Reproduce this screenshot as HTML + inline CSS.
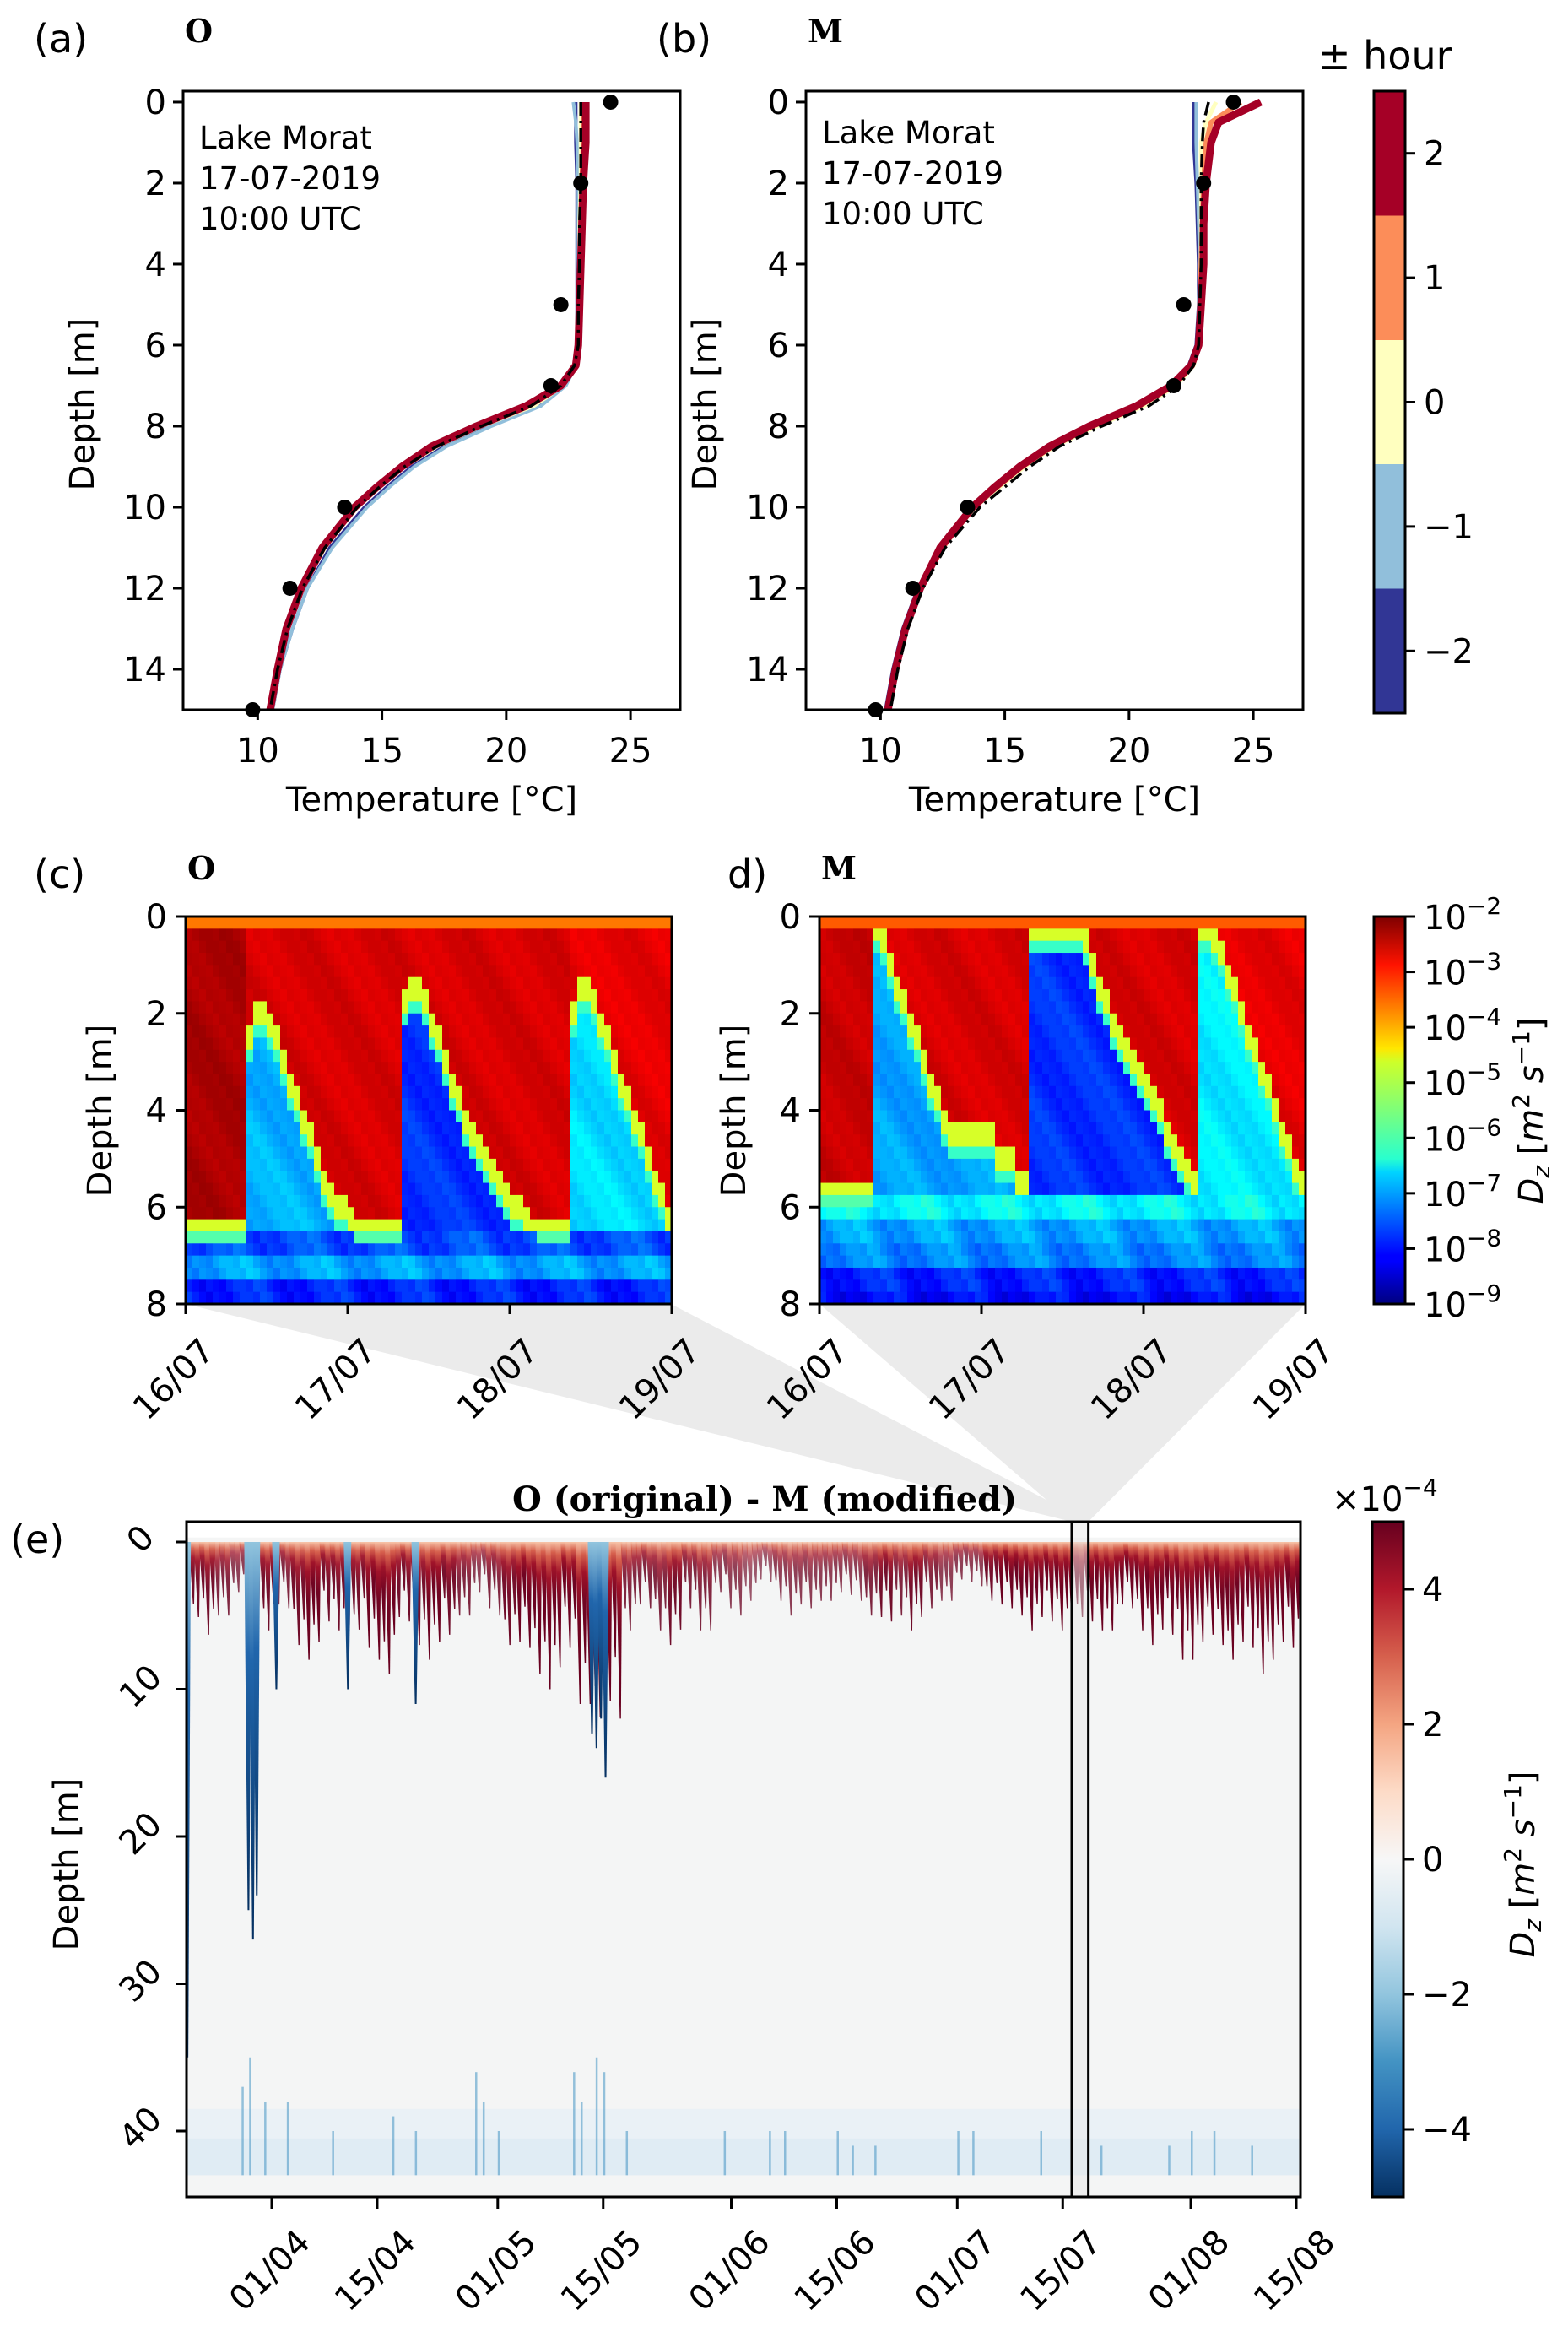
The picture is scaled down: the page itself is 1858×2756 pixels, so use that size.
<!DOCTYPE html>
<html><head><meta charset="utf-8">
<style>
html,body{margin:0;padding:0;background:#fff;}
svg{display:block;font-family:"DejaVu Sans","Liberation Sans",sans-serif;}
</style></head>
<body>
<svg id="fig" width="1858" height="2756" viewBox="0 0 1858 2756" xmlns="http://www.w3.org/2000/svg">
<defs>
<linearGradient id="hourcb" x1="0" y1="1" x2="0" y2="0">
<stop offset="0" stop-color="#313695"/><stop offset="0.2" stop-color="#313695"/>
<stop offset="0.2" stop-color="#91bfdb"/><stop offset="0.4" stop-color="#91bfdb"/>
<stop offset="0.4" stop-color="#ffffbf"/><stop offset="0.6" stop-color="#ffffbf"/>
<stop offset="0.6" stop-color="#fc8d59"/><stop offset="0.8" stop-color="#fc8d59"/>
<stop offset="0.8" stop-color="#a50026"/><stop offset="1" stop-color="#a50026"/>
</linearGradient>
<linearGradient id="jetcb" x1="0" y1="1" x2="0" y2="0">
<stop offset="0" stop-color="#00007f"/><stop offset="0.11" stop-color="#0000ff"/>
<stop offset="0.125" stop-color="#0000ff"/><stop offset="0.34" stop-color="#00d4ff"/>
<stop offset="0.375" stop-color="#29ffce"/><stop offset="0.5" stop-color="#7dff7a"/>
<stop offset="0.625" stop-color="#ceff29"/><stop offset="0.66" stop-color="#ffe600"/>
<stop offset="0.875" stop-color="#ff1300"/><stop offset="1" stop-color="#7f0000"/>
</linearGradient>
<linearGradient id="rdbucb" x1="0" y1="1" x2="0" y2="0">
<stop offset="0" stop-color="#053061"/><stop offset="0.1" stop-color="#2166ac"/>
<stop offset="0.2" stop-color="#4393c3"/><stop offset="0.3" stop-color="#92c5de"/>
<stop offset="0.4" stop-color="#d1e5f0"/><stop offset="0.5" stop-color="#f7f7f7"/>
<stop offset="0.6" stop-color="#fddbc7"/><stop offset="0.7" stop-color="#f4a582"/>
<stop offset="0.8" stop-color="#d6604d"/><stop offset="0.9" stop-color="#b2182b"/>
<stop offset="1" stop-color="#67001f"/>
</linearGradient>
<linearGradient id="spike" x1="0" y1="0" x2="0" y2="1">
<stop offset="0" stop-color="#f7c4a8"/><stop offset="0.1" stop-color="#d6604d"/>
<stop offset="0.25" stop-color="#a0132a"/><stop offset="0.5" stop-color="#700422"/><stop offset="1" stop-color="#67001f"/>
</linearGradient>
<linearGradient id="bspike" x1="0" y1="0" x2="0" y2="1">
<stop offset="0" stop-color="#92c5de"/><stop offset="0.3" stop-color="#2166ac"/>
<stop offset="1" stop-color="#053061"/>
</linearGradient>
<clipPath id="clipE"><rect x="221" y="1803" width="1320" height="800"/></clipPath>
<clipPath id="clipA"><rect x="217" y="108" width="589" height="733"/></clipPath>
<clipPath id="clipB"><rect x="955" y="108" width="589" height="733"/></clipPath>
</defs>
<g id="layer-zoom"></g>
<g id="layer-main"></g>
</svg>
<script>
// ---------- data: temperature profiles ----------
const depthP = [0,0.5,1,2,3,4,5,6,6.5,7,7.5,8,8.5,9,9.5,10,11,12,13,14,15];
const obsDepth = [0,2,5,7,10,12,15];
const obsTemp = [24.2,23.0,22.2,21.8,13.5,11.3,9.8];
const aM2 = [22.8,22.8,22.8,22.85,22.85,22.85,22.85,22.85,22.75,22.3,21.2,19.2,17.5,16.2,15.2,14.3,12.9,12.0,11.4,10.9,10.6];
const aM1 = [22.7,22.8,22.85,22.9,22.9,22.9,22.9,22.9,22.8,22.4,21.4,19.4,17.6,16.3,15.3,14.4,13.0,12.0,11.4,10.9,10.6];
const a0 = [23.0,23.0,23.0,23.0,22.95,22.95,22.9,22.9,22.8,22.3,21.1,19.0,17.2,15.9,14.9,14.0,12.7,11.8,11.2,10.8,10.5];
const aP1 = [23.1,23.1,23.1,23.05,23.0,23.0,22.95,22.9,22.8,22.2,20.9,18.9,17.1,15.85,14.85,13.9,12.6,11.8,11.2,10.8,10.5];
const aP2 = [23.2,23.2,23.2,23.1,23.05,23.0,22.95,22.9,22.8,22.2,20.8,18.8,17.0,15.8,14.8,13.9,12.6,11.75,11.15,10.8,10.5];
const aObsLine = [23.0,23.0,23.0,23.0,22.95,22.95,22.9,22.9,22.75,22.2,21.0,19.0,17.2,15.9,14.9,14.0,12.7,11.8,11.2,10.8,10.5];
const bM2 = [22.6,22.6,22.6,22.7,22.75,22.8,22.8,22.7,22.4,21.7,20.3,18.4,16.8,15.6,14.6,13.7,12.4,11.5,10.9,10.5,10.2];
const bM1 = [22.7,22.7,22.7,22.75,22.8,22.85,22.8,22.75,22.5,21.8,20.4,18.5,16.9,15.7,14.7,13.8,12.5,11.6,11.0,10.6,10.3];
const b0 = [23.5,23.1,22.9,22.9,22.9,22.9,22.85,22.8,22.6,21.9,20.6,18.7,17.0,15.8,14.8,13.8,12.5,11.6,11.0,10.6,10.3];
const bP1 = [24.5,23.3,23.1,23.0,22.95,22.9,22.85,22.8,22.55,21.8,20.4,18.5,16.9,15.7,14.7,13.7,12.5,11.6,11.0,10.6,10.3];
const bP2 = [25.3,23.6,23.3,23.1,23.0,23.0,22.9,22.8,22.5,21.7,20.3,18.4,16.8,15.6,14.6,13.7,12.4,11.6,11.0,10.6,10.3];
const bObsLine = [23.2,23.0,22.95,22.9,22.9,22.9,22.85,22.8,22.6,22.0,20.8,18.9,17.2,16.0,15.0,14.0,12.6,11.7,11.1,10.7,10.4];
const tempTicks = [10,15,20,25];
const depthTicksA = [0,2,4,6,8,10,12,14];
const hourTicks = [2,1,0,-1,-2];
// ---------- data: Dz heatmaps (c,d): mixed-layer depth per hour ----------
const mixC = [6.5,6.5,6.5,6.5,6.5,6.5,6.5,6.5,6.5, 2.5,2.0,2.0,2.2,2.6,3.0,3.4,3.8,4.2,4.6,5.0,5.4,5.8,6.0,6.0,6.2, 6.5,6.5,6.5,6.5,6.5,6.5,6.5, 1.8,1.6,1.6,1.8,2.2,2.6,3.0,3.4,3.8,4.2,4.6,4.8,5.0,5.2,5.5,5.8,6.0,6.0,6.2,6.4,6.5,6.5,6.5,6.5,6.5, 2.0,1.6,1.6,1.8,2.2,2.6,3.0,3.4,3.8,4.2,4.6,5.0,5.4,5.8,6.2];
const mixD = [5.75,5.75,5.75,5.75,5.75,5.75,5.75,5.75, 0.3,0.5,1.0,1.4,1.8,2.2,2.6,3.0,3.4,3.8,4.2,4.5,4.5,4.5,4.5,4.5,4.5,4.5,5.0,5.0,5.0,5.5,5.5, 0.2,0.3,0.3,0.3,0.3,0.3,0.3,0.3,0.6,1.0,1.4,1.8,2.2,2.5,2.8,3.0,3.2,3.5,3.8,4.1,4.4,4.7,5.0,5.2,5.5, 0.2,0.3,0.5,0.8,1.2,1.6,2.0,2.4,2.8,3.2,3.6,4.0,4.4,4.8,5.2,5.5];
const interiorC = [-6.9,-7.8,-6.6];
const interiorD = [-7.0,-7.8,-6.5];
const mixedLogC = [-2.3,-2.6,-2.6,-2.7];
const mixedLogD = [-2.5,-2.6,-2.6,-2.7];
const deepC = [-7.6,-7.6,-7.0,-7.0,-7.9,-7.9];
const deepD = [-6.4,-6.4,-7.0,-7.0,-7.2,-7.2,-7.9,-7.9,-8.1];
const texture = [0,0.3,-0.2,0.1,-0.4,0.2,0,-0.3,0.4,-0.1,0.2,-0.2];
const dateTicksCD = ["16/07","17/07","18/07","19/07"];
const depthTicksCD = [0,2,4,6,8];
const dzTickExp = ["−2","−3","−4","−5","−6","−7","−8","−9"];
// ---------- data: difference panel (e) ----------
const spikeDepth = [6,7,5,4,5, 6,5,7,8,6,6, 7,8,9,6,7,8,7, 5,4,5,7,8,9,10,8, 11,14,12, 6,5,6,7,5,6, 4,5,4,3,4,5,5,4,4, 4,5,6,5,6,5,4,3,3, 4,5,5,6,6,6,6, 6,6,5,6,7,7, 8,8,7,8,8,9,8,8,9];
const spikeAmp = [0.8,0.8,0.7,0.6,0.7, 0.8,0.7,0.8,0.9,0.8,0.8, 0.8,0.9,0.9,0.8,0.8,0.9,0.8, 0.7,0.6,0.7,0.8,0.9,0.9,1,0.9, 1,1,1, 0.7,0.7,0.7,0.8,0.7,0.7, 0.6,0.6,0.5,0.5,0.6,0.6,0.6,0.6,0.6, 0.6,0.7,0.8,0.7,0.8,0.7,0.6,0.6,0.6, 0.8,0.9,0.9,1,1,1,1, 1,1,0.9,1,1,1, 1,1,1,1,1,1,1,1,1];
const spikeVar = [1,0.7,0.85,0.55,0.9,0.65,1,0.75];
const blueDays = [-11.3,-3.2,-2.6,-2.1,0.5,10,19,42.4,43,43.6,44.2];
const blueDepths = [35,25,27,24,10,10,11,13,14,12,16];
const bottomDays = [-4,-3,-1,2,8,16,19,27,28,30,40,41,43,44,47,60,66,68,75,77,80,91,93,102,110,119,122,125,130];
const bottomTops = [37,35,38,38,40,39,40,36,38,40,36,38,35,36,40,40,40,40,40,41,41,40,40,40,41,41,40,40,41];
const eDateTicks = ["01/04","15/04","01/05","15/05","01/06","15/06","01/07","15/07","01/08","15/08"];
const eDateDays = [0,14,30,44,61,75,91,105,122,136];
const eDepthTicks = [0,10,20,30,40];
const eCbTicks = [4,2,0,-2,-4];

// ---------- helpers ----------
const NS="http://www.w3.org/2000/svg";
const main=document.getElementById('layer-main');
const zl=document.getElementById('layer-zoom');
function mk(tag,attrs,parent){const e=document.createElementNS(NS,tag);for(const k in attrs)e.setAttribute(k,attrs[k]);(parent||main).appendChild(e);return e;}
function txt(s,x,y,size,anchor,parent,extra){const e=mk('text',Object.assign({x:x,y:y,'font-size':size,'text-anchor':anchor||'start',fill:'#000'},extra||{}),parent);e.textContent=s;return e;}
function jet(v){let t=(v+9)/7;t=Math.max(0,Math.min(1,t));const c=x=>Math.round(255*Math.max(0,Math.min(1,1.5-Math.abs(4*t-x))));return `rgb(${c(3)},${c(2)},${c(1)})`;}

// ---------- panels a, b ----------
function profilePanel(x0,series,obsLine,letter,title,nameP,annY){
  const W=589,Y0=108,H=733;
  const X=t=>x0+(t-7)*W/20, Y=d=>Y0+(d+0.27)*H/15.27;
  const g=mk('g',{'clip-path':nameP==='a'?'url(#clipA)':'url(#clipB)'});
  
  
  const cols=['#313695','#91bfdb','#ffffbf','#fc8d59','#a50026'];
  const widths=[4,4,5,6,9];
  const names=['minus-2h','minus-1h','zero-h','plus-1h','plus-2h'];
  series.forEach((s,k)=>{
    const p=mk('polyline',{points:s.map((t,i)=>X(t)+','+Y(depthP[i])).join(' '),fill:'none',stroke:cols[k],'stroke-width':widths[k],'stroke-linejoin':'round'},g);
    
    
  });
  const pl=mk('polyline',{points:obsLine.map((t,i)=>X(t)+','+Y(depthP[i])).join(' '),fill:'none',stroke:'#000','stroke-width':3.5,'stroke-dasharray':'16,6,3,6'},g);
  
  
  obsTemp.forEach((t,i)=>{
    const c=mk('circle',{cx:X(t),cy:Y(obsDepth[i]),r:9,fill:'#000'});
    
    
  });
  const fr=mk('rect',{x:x0,y:Y0,width:W,height:H,fill:'none',stroke:'#000','stroke-width':3});
  
  
  tempTicks.forEach(t=>{mk('line',{x1:X(t),x2:X(t),y1:Y0+H,y2:Y0+H+12,stroke:'#000','stroke-width':3});
    const e=txt(String(t),X(t),Y0+H+62,40,'middle');});
  depthTicksA.forEach(d=>{mk('line',{x1:x0-12,x2:x0,y1:Y(d),y2:Y(d),stroke:'#000','stroke-width':3});
    const e=txt(String(d),x0-20,Y(d)+14,40,'end');});
  let e=txt('Temperature [°C]',x0+W/2,961,40,'middle');
  e=txt('Depth [m]',0,0,40,'middle',main,{transform:`translate(${x0-106},479) rotate(-90)`});
  ['Lake Morat','17-07-2019','10:00 UTC'].forEach((s,i)=>{const a=txt(s,x0+19,annY+i*48,37,'start');});
  e=txt(letter,x0-177,62,46,'start');
  e=txt(title,x0+2,50,38,'start',main,{'font-family':'"DejaVu Serif","Liberation Serif",serif','font-weight':'bold'});
}
profilePanel(217,[aM2,aM1,a0,aP1,aP2],aObsLine,'(a)','O','a',176);
profilePanel(955,[bM2,bM1,b0,bP1,bP2],bObsLine,'(b)','M','b',170);

// hour colorbar
(function(){
  const x=1628,y=108,w=37,h=737;
  const r=mk('rect',{x:x,y:y,width:w,height:h,fill:'url(#hourcb)',stroke:'#000','stroke-width':3});
  
  hourTicks.forEach((v,i)=>{const yy=y+h*(i+0.5)/5;mk('line',{x1:x+w,x2:x+w+12,y1:yy,y2:yy,stroke:'#000','stroke-width':3});
    const e=txt(v<0?'−'+(-v):String(v),x+w+22,yy+14,40,'start');});
  const e=txt('± hour',1562,82,46,'start');
})();

// ---------- panels c, d ----------
function heatPanel(x0,mix,interior,mixedLog,deep,deepStartRow,topLog,letter,title,nm,labelX){
  const W=576,Y0=1086,H=459,rows=32,cols=mix.length;
  const cw=W/cols,rh=H/rows;
  const g=mk('g',{});
  
  
  let tri=-1;
  for(let i=0;i<cols;i++){
    if(i>0 && mix[i]<mix[i-1]-1.5) tri++;
    const seg=Math.min(mixedLog.length-1,tri+1);
    for(let r=0;r<rows;r++){
      const z=(r+0.5)*8/rows;
      const m=mix[i];
      const tx=texture[(i*5+r*7)%12];
      let v;
      if(r>=deepStartRow){ v=deep[r-deepStartRow]+tx*0.8; if(m>=deepStartRow*0.25-0.01 && r===deepStartRow) v=-5.8; }
      else if(r===0) v=topLog;
      else if(z<m-0.25) v=mixedLog[seg]+tx*0.3;
      else if(z<m+0.25) v=-4.9;
      else if(z<m+0.5) v=-6.0;
      else v=(tri>=0?interior[Math.min(tri,interior.length-1)]:-7)+tx*0.5;
      const c=mk('rect',{x:(x0+i*cw).toFixed(2),y:(Y0+r*rh).toFixed(2),width:(cw+0.6).toFixed(2),height:(rh+0.6).toFixed(2),fill:jet(v)},g);
      
      
    }
  }
  const fr=mk('rect',{x:x0,y:Y0,width:W,height:H,fill:'none',stroke:'#000','stroke-width':3});
  
  depthTicksCD.forEach(d=>{const yy=Y0+d*H/8;mk('line',{x1:x0-12,x2:x0,y1:yy,y2:yy,stroke:'#000','stroke-width':3});
    const e=txt(String(d),x0-22,yy+14,40,'end');});
  dateTicksCD.forEach((s,k)=>{const xx=x0+k*W/3;mk('line',{x1:xx,x2:xx,y1:Y0+H,y2:Y0+H+12,stroke:'#000','stroke-width':3});
    const e=txt(s,0,0,40,'end',main,{transform:`translate(${xx+36},${Y0+H+58}) rotate(-45)`});});
  let e=txt('Depth [m]',0,0,40,'middle',main,{transform:`translate(${x0-88},1316) rotate(-90)`});
  e=txt(letter,labelX,1052,46,'start');
  e=txt(title,x0+2,1042,38,'start',main,{'font-family':'"DejaVu Serif","Liberation Serif",serif','font-weight':'bold'});
}
// zoom connectors (drawn first, behind)
const eX=d=>322+d*(1536-322)/136;
const rectL=eX(106.2), rectR=eX(108.4);
(function(){
  const p1=mk('polygon',{points:`220,1545 795,1545 ${rectR},1803 ${rectL},1803`,fill:'#ebebeb'},zl);
  
  const p2=mk('polygon',{points:`971,1545 1547,1545 ${rectR},1803 ${rectL},1803`,fill:'#ebebeb'},zl);
  
})();
heatPanel(220,mixC,interiorC,mixedLogC,deepC,26,-3.7,'(c)','O','c',40);
heatPanel(971,mixD,interiorD,mixedLogD,deepD,23,-3.5,'d)','M','d',862);

// Dz colorbar
(function(){
  const x=1628,y=1086,w=37,h=459;
  const r=mk('rect',{x:x,y:y,width:w,height:h,fill:'url(#jetcb)',stroke:'#000','stroke-width':3});
  
  dzTickExp.forEach((s,i)=>{const yy=y+h*i/7;mk('line',{x1:x+w,x2:x+w+12,y1:yy,y2:yy,stroke:'#000','stroke-width':3});
    const e=mk('text',{x:x+w+22,y:yy+15,'font-size':40,fill:'#000'});
    
    e.textContent='10';const ts=mk('tspan',{dy:-18,'font-size':28},e);ts.textContent=s;});
  const t=mk('text',{'font-size':40,'text-anchor':'middle',fill:'#000',transform:'translate(1828,1316) rotate(-90)'});
  
  t.innerHTML='<tspan font-style="italic">D</tspan><tspan font-style="italic" font-size="28" dy="8">z</tspan><tspan dy="-8"> [</tspan><tspan font-style="italic">m</tspan><tspan font-size="28" dy="-16">2</tspan><tspan dy="16"> </tspan><tspan font-style="italic">s</tspan><tspan font-size="28" dy="-16">−1</tspan><tspan dy="16">]</tspan>';
})();

// ---------- panel e ----------
(function(){
  const X0=221,Y0=1803,W=1320,H=800;
  const Y=d=>1827+d*(2525-1827)/40;
  const g=mk('g',{'clip-path':'url(#clipE)'});
  
  mk('rect',{x:X0,y:Y0,width:W,height:H,fill:'#f4f5f5'},g);
  mk('rect',{x:X0,y:Y0,width:W,height:Y(-0.3)-Y0,fill:'#ffffff'},g);
  // bottom noise band
  mk('rect',{x:X0,y:Y(38.5),width:W,height:Y(43)-Y(38.5),fill:'#eaf1f6'},g);
  mk('rect',{x:X0,y:Y(40.5),width:W,height:Y(43)-Y(40.5),fill:'#e0ecf4'},g);
  bottomDays.forEach((d,i)=>{
    const b=mk('rect',{x:eX(d),y:Y(bottomTops[i]),width:2.5,height:Y(43)-Y(bottomTops[i]),fill:'#4393c3',opacity:0.55},g);
    
  });
  // surface spikes
  const d0=-11.6;
  spikeDepth.forEach((dep,i)=>{
    const xa=eX(d0+i*2), w=eX(d0+2)-eX(d0);
    [0,1,2].forEach(k=>{
      const dd=dep*spikeVar[(i*3+k)%spikeVar.length];
      const xl=xa+k*w/3, xr=xl+w/3;
      const p=mk('polygon',{points:`${xl-w*0.04},${Y(0)} ${xr+w*0.06},${Y(0)} ${xr-w*0.02},${Y(dd)} ${xr-w*0.1},${Y(dd)}`,fill:'url(#spike)',opacity:Math.min(1,spikeAmp[i]+0.15)},g);
      
      
    });
  });
  blueDays.forEach((d,i)=>{
    const b=mk('polygon',{points:`${eX(d)-4},${Y(0)} ${eX(d)+5},${Y(0)} ${eX(d)+2},${Y(blueDepths[i])} ${eX(d)},${Y(blueDepths[i])}`,fill:'url(#bspike)'},g);
    
    
  });
  const zr=mk('rect',{x:rectL,y:Y0,width:rectR-rectL,height:H,fill:'#e8e8e8','fill-opacity':0.5,stroke:'#000','stroke-width':3});
  
  const fr=mk('rect',{x:X0,y:Y0,width:W,height:H,fill:'none',stroke:'#000','stroke-width':3});
  
  eDepthTicks.forEach(d=>{mk('line',{x1:X0-12,x2:X0,y1:Y(d),y2:Y(d),stroke:'#000','stroke-width':3});
    const e=txt(String(d),0,0,40,'middle',main,{transform:`translate(${X0-45},${Y(d)+6}) rotate(-45)`});});
  eDateTicks.forEach((s,k)=>{const xx=eX(eDateDays[k]);mk('line',{x1:xx,x2:xx,y1:Y0+H,y2:Y0+H+14,stroke:'#000','stroke-width':3});
    const e=txt(s,0,0,40,'end',main,{transform:`translate(${xx+48},${Y0+H+56}) rotate(-45)`});});
  let e=txt('Depth [m]',0,0,40,'middle',main,{transform:`translate(92,2209) rotate(-90)`});
  e=txt('(e)',12,1840,46,'start');
  e=txt('O (original) - M (modified)',906,1790,40,'middle',main,{'font-family':'"DejaVu Serif","Liberation Serif",serif','font-weight':'bold'});
  // colorbar
  const cx=1626,cw=37;
  const r=mk('rect',{x:cx,y:Y0,width:cw,height:H,fill:'url(#rdbucb)',stroke:'#000','stroke-width':3});
  
  eCbTicks.forEach(v=>{const yy=Y0+H/2-v*H/10;mk('line',{x1:cx+cw,x2:cx+cw+12,y1:yy,y2:yy,stroke:'#000','stroke-width':3});
    const t=txt(v<0?'−'+(-v):String(v),cx+cw+22,yy+14,40,'start');});
  const m=mk('text',{x:1578,y:1790,'font-size':40,fill:'#000'});
  
  m.innerHTML='×10<tspan font-size="28" dy="-18">−4</tspan>';
  const t=mk('text',{'font-size':40,'text-anchor':'middle',fill:'#000',transform:'translate(1818,2209) rotate(-90)'});
  
  t.innerHTML='<tspan font-style="italic">D</tspan><tspan font-style="italic" font-size="28" dy="8">z</tspan><tspan dy="-8"> [</tspan><tspan font-style="italic">m</tspan><tspan font-size="28" dy="-16">2</tspan><tspan dy="16"> </tspan><tspan font-style="italic">s</tspan><tspan font-size="28" dy="-16">−1</tspan><tspan dy="16">]</tspan>';
})();
</script>
</body></html>
